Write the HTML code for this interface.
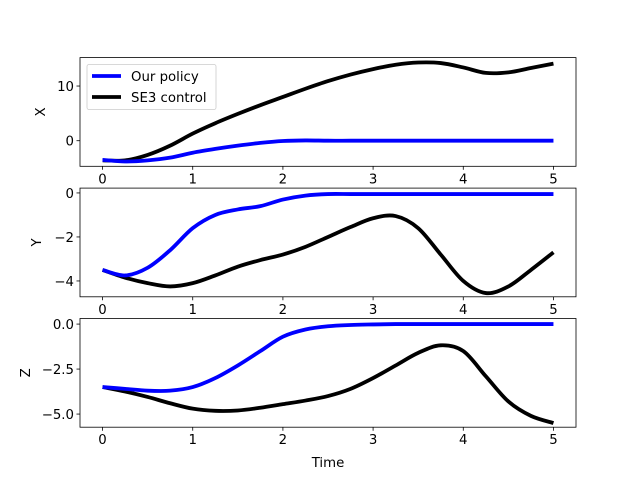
<!DOCTYPE html>
<html><head><meta charset="utf-8"><style>
body{margin:0;background:#fff}
svg text{font-family:"DejaVu Sans","Liberation Sans",sans-serif;font-size:13.3px;fill:#000}
</style></head><body>
<svg id="c" width="640" height="480" xmlns="http://www.w3.org/2000/svg"></svg>
<script>
const times=[0,0.25,0.5,0.75,1,1.25,1.5,1.75,2,2.25,2.5,2.75,3,3.25,3.5,3.75,4,4.25,4.5,4.75,5];
const xPolicy=[-3.5,-3.8,-3.6,-3.1,-2.2,-1.5,-0.9,-0.4,-0.05,0.05,0,0,0,0,0,0,0,0,0,0,0];
const xSE3=[-3.6,-3.6,-2.6,-0.9,1.3,3.2,4.9,6.5,8,9.5,10.9,12.1,13.1,13.9,14.3,14.2,13.4,12.4,12.5,13.3,14.1];
const yPolicy=[-3.5,-3.75,-3.4,-2.6,-1.6,-1.0,-0.75,-0.6,-0.3,-0.12,-0.05,-0.05,-0.05,-0.05,-0.05,-0.05,-0.05,-0.05,-0.05,-0.05,-0.05];
const ySE3=[-3.5,-3.85,-4.1,-4.25,-4.1,-3.75,-3.35,-3.05,-2.8,-2.45,-2.0,-1.55,-1.15,-1.05,-1.6,-2.8,-4.0,-4.55,-4.25,-3.5,-2.7];
const zPolicy=[-3.5,-3.6,-3.7,-3.7,-3.5,-3.0,-2.3,-1.5,-0.7,-0.3,-0.12,-0.05,-0.02,0,0,0,0,0,0,0,0];
const zSE3=[-3.5,-3.75,-4.05,-4.4,-4.7,-4.82,-4.8,-4.65,-4.45,-4.25,-4.0,-3.6,-3.0,-2.3,-1.6,-1.18,-1.5,-2.9,-4.3,-5.1,-5.5];
const xTicks=[0,1,2,3,4,5];
const panels=[
 {name:'x',label:'X',lx:40,top:57.6,vmin:-4.68,vmax:15.2,ticks:[0,10],tl:['0','10'],a:xPolicy,b:xSE3},
 {name:'y',label:'Y',lx:36,top:188.1,vmin:-4.72,vmax:0.22,ticks:[-4,-2,0],tl:['−4','−2','0'],a:yPolicy,b:ySE3},
 {name:'z',label:'Z',lx:25,top:318.5,vmin:-5.73,vmax:0.31,ticks:[-5,-2.5,0],tl:['−5.0','−2.5','0.0'],a:zPolicy,b:zSE3}];
const L=80,R=576,H=108.7;
const svg=document.getElementById('c');const NS='http://www.w3.org/2000/svg';
function mk(t,at,p){const e=document.createElementNS(NS,t);for(const k in at)e.setAttribute(k,at[k]);(p||svg).appendChild(e);return e;}
const sx=t=>L+(t+0.25)/5.5*(R-L);
function path(xs,ys){const p=xs.map((t,i)=>[sx(t),ys[i]]);let d='M'+p[0][0]+','+p[0][1];
 for(let i=0;i<p.length-1;i++){const p0=p[Math.max(0,i-1)],p1=p[i],p2=p[i+1],p3=p[Math.min(p.length-1,i+2)];
 d+=` C${p1[0]+(p2[0]-p0[0])/6},${p1[1]+(p2[1]-p0[1])/6} ${p2[0]-(p3[0]-p1[0])/6},${p2[1]-(p3[1]-p1[1])/6} ${p2[0]},${p2[1]}`;}return d;}
panels.forEach(P=>{
 const g=mk('g',{});
 const sy=v=>P.top+(P.vmax-v)/(P.vmax-P.vmin)*H;
 const cp=mk('clipPath',{id:'cl'+P.name},g);mk('rect',{x:L,y:P.top,width:R-L,height:H},cp);
 let e=mk('path',{d:path(times,P.b.map(sy)),fill:'none',stroke:'#000','stroke-width':3.8,'clip-path':`url(#cl${P.name})`},g);
 
 e=mk('path',{d:path(times,P.a.map(sy)),fill:'none',stroke:'#0000ff','stroke-width':3.8,'clip-path':`url(#cl${P.name})`},g);
 
 e=mk('rect',{x:L,y:P.top,width:R-L,height:H,fill:'none',stroke:'#000','stroke-width':0.8},g);
 
 xTicks.forEach(t=>{const x=sx(t);mk('line',{x1:x,x2:x,y1:P.top+H,y2:P.top+H+3.5,stroke:'#000','stroke-width':0.8},g);
  const tx=mk('text',{x:x,y:P.top+H+17,'text-anchor':'middle'},g);tx.textContent=t;
  });
 P.ticks.forEach((v,i)=>{const y=sy(v);mk('line',{x1:L-3.5,x2:L,y1:y,y2:y,stroke:'#000','stroke-width':0.8},g);
  const tx=mk('text',{x:L-6,y:y+5,'text-anchor':'end'},g);tx.textContent=P.tl[i];
  });
 const yl=mk('text',{x:0,y:0,'text-anchor':'middle',transform:`translate(${P.lx+5},${P.top+H/2}) rotate(-90)`},g);
 yl.textContent=P.label;
});
const xt=mk('text',{x:328,y:467,'text-anchor':'middle'});xt.textContent='Time';

const lg=mk('g',{});
mk('rect',{x:87,y:64.5,width:129,height:45,rx:2,fill:'#fff','fill-opacity':0.8,stroke:'#ccc','stroke-width':0.8},lg);
[['Our policy','#0000ff',76],['SE3 control','#000',97]].forEach(([n,c,y])=>{
 const e=mk('g',{},lg);
 mk('line',{x1:92,x2:121,y1:y,y2:y,stroke:c,'stroke-width':3.8},e);
 const t=mk('text',{x:131,y:y+5},e);t.textContent=n;});
</script></body></html>
